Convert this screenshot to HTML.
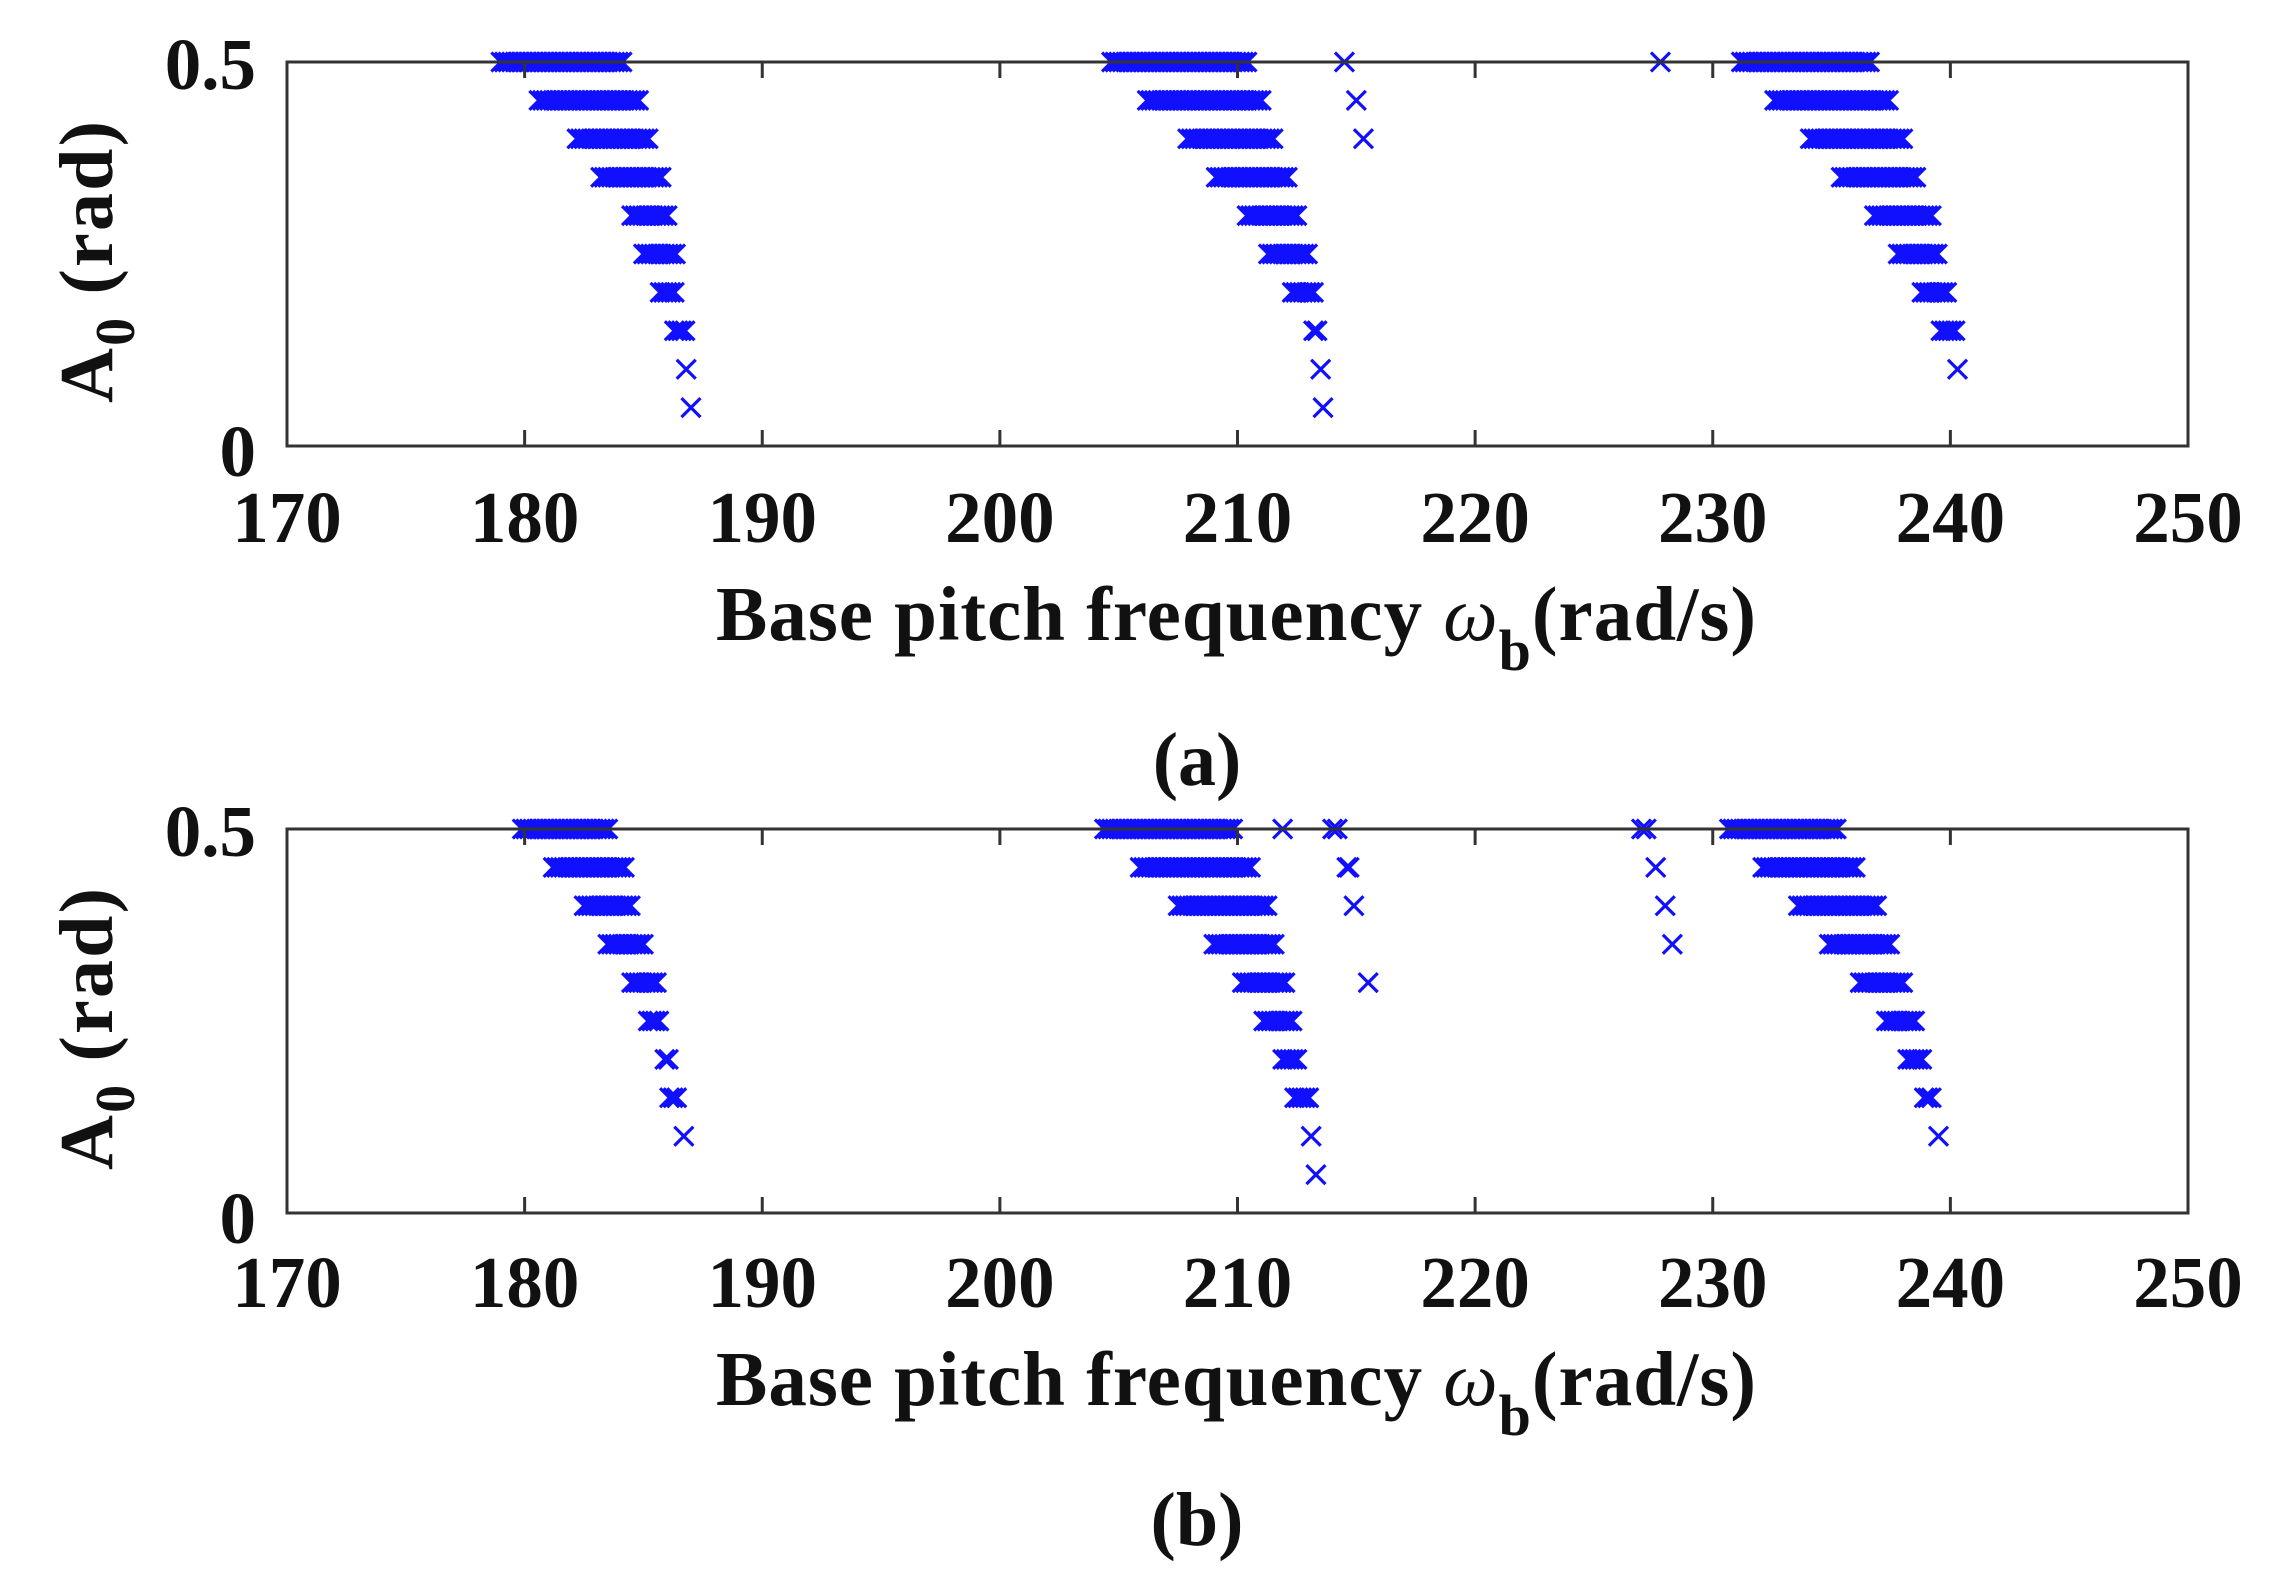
<!DOCTYPE html>
<html><head><meta charset="utf-8"><style>
html,body{margin:0;padding:0;background:#fff;}
svg{display:block;}
text{font-family:"Liberation Serif",serif;font-weight:bold;fill:#111;}
</style></head><body>
<svg id="s" width="2279" height="1584" xmlns="http://www.w3.org/2000/svg">
</svg>
<script>
const NS="http://www.w3.org/2000/svg";
const svg=document.getElementById('s');
function el(tag,attrs,parent,txt){const e=document.createElementNS(NS,tag);for(const k in attrs)e.setAttribute(k,attrs[k]);if(txt!==undefined)e.textContent=txt;(parent||svg).appendChild(e);return e;}
const X0=287,X1=2188;
function px(w){return X0+(w-170)*(X1-X0)/80;}
function panel(top,bot,rows,singles,lab,labY,tickY,xlY){
  const g=el('g',{});
  const py=a=>bot-(a/0.5)*(bot-top);
  const m=el('g',{stroke:'#1010ff','stroke-width':3.2,fill:'none'},g);
  const s=9.5;
  function mk(w,a){const x=px(w),y=py(a);el('path',{d:`M${x-s} ${y-s}L${x+s} ${y+s}M${x-s} ${y+s}L${x+s} ${y-s}`},m);}
  rows.forEach(r=>{const a=r[0];let st=r[1]+0.4,en=r[2]-0.4;if(en<st){mk((r[1]+r[2])/2,a);return;}for(let w=st;w<=en+1e-6;w+=0.15)mk(w,a);});
  singles.forEach(p=>mk(p[0],p[1]));
  el('rect',{x:X0,y:top,width:X1-X0,height:bot-top,fill:'none',stroke:'#333','stroke-width':3},g);
  for(let t=180;t<=240;t+=10){const x=px(t);el('line',{x1:x,x2:x,y1:bot,y2:bot-16,stroke:'#333','stroke-width':3},g);el('line',{x1:x,x2:x,y1:top,y2:top+16,stroke:'#333','stroke-width':3},g);}
  for(let t=170;t<=250;t+=10){el('text',{x:px(t),y:tickY,'font-size':73,'text-anchor':'middle'},g,String(t));}
  el('text',{x:256,y:top+27,'font-size':73,'text-anchor':'end'},g,'0.5');
  el('text',{x:256,y:bot+30,'font-size':73,'text-anchor':'end'},g,'0');
  const yl=el('text',{transform:`translate(112,${(top+bot)/2+8}) rotate(-90)`,'font-size':76,'text-anchor':'middle',textLength:282,lengthAdjust:'spacing'},g);
  yl.appendChild(document.createTextNode('A'));
  el('tspan',{dy:22,'font-size':56},yl,'0');
  el('tspan',{dy:-22,'font-size':76},yl,'  (rad)');
  const xl=el('text',{x:716,y:xlY,'font-size':77,textLength:1040,lengthAdjust:'spacing'},g);
  xl.appendChild(document.createTextNode('Base pitch frequency '));
  el('tspan',{'font-style':'italic','font-weight':'normal'},xl,'\u03C9');
  el('tspan',{dy:30,'font-size':58},xl,'b');
  el('tspan',{dy:-30},xl,'(rad/s)');
  const l=el('text',{x:1197,y:labY,'font-size':76,'text-anchor':'middle'},g);
  l.appendChild(document.createTextNode('('));
  el('tspan',{},l,lab);
  l.appendChild(document.createTextNode(')'));
}
panel(62,446,[
[0.5,178.6,184.6],[0.45,180.2,185.2],[0.4,181.8,185.7],[0.35,182.8,186.2],[0.3,184.1,186.5],[0.25,184.6,186.8],[0.2,185.3,186.8],[0.15,185.9,187.2],[0.1,186.4,187.2],[0.05,186.6,187.4],
[0.5,204.3,210.9],[0.45,205.8,211.4],[0.4,207.5,212.0],[0.35,208.7,212.5],[0.3,210.0,212.9],[0.25,210.9,213.4],[0.2,211.9,213.7],[0.15,212.8,213.8],
[0.5,230.8,237.1],[0.45,232.2,237.8],[0.4,233.7,238.4],[0.35,235.0,239.0],[0.3,236.4,239.6],[0.25,237.4,239.9],[0.2,238.4,240.3],[0.15,239.2,240.6]
],[[213.5,0.1],[213.6,0.05],[214.5,0.5],[215.0,0.45],[215.3,0.4],[227.8,0.5],[240.3,0.1]],'a',785,542,640);
panel(829,1213,[
[0.5,179.5,183.9],[0.45,180.8,184.6],[0.4,182.1,184.9],[0.35,183.1,185.5],[0.3,184.1,186.0],[0.25,184.8,186.1],[0.2,185.5,186.5],[0.15,185.7,186.8],
[0.5,204.0,210.2],[0.45,205.5,211.0],[0.4,207.1,211.7],[0.35,208.6,212.0],[0.3,209.8,212.5],[0.25,210.7,212.8],[0.2,211.5,213.0],[0.15,212.0,213.4],
[0.5,230.3,235.6],[0.45,231.7,236.5],[0.4,233.2,237.3],[0.35,234.5,237.9],[0.3,235.8,238.5],[0.25,236.9,238.9],[0.2,237.8,239.3],[0.15,238.5,239.7]
],[[186.7,0.1],[213.1,0.1],[213.3,0.05],[211.9,0.5],[214.0,0.5],[214.2,0.5],[214.6,0.45],[214.7,0.45],[214.9,0.4],[215.5,0.3],[227.0,0.5],[227.2,0.5],[227.6,0.45],[228.0,0.4],[228.3,0.35],[239.5,0.1]],'b',1545,1307,1405);
</script>
</body></html>
